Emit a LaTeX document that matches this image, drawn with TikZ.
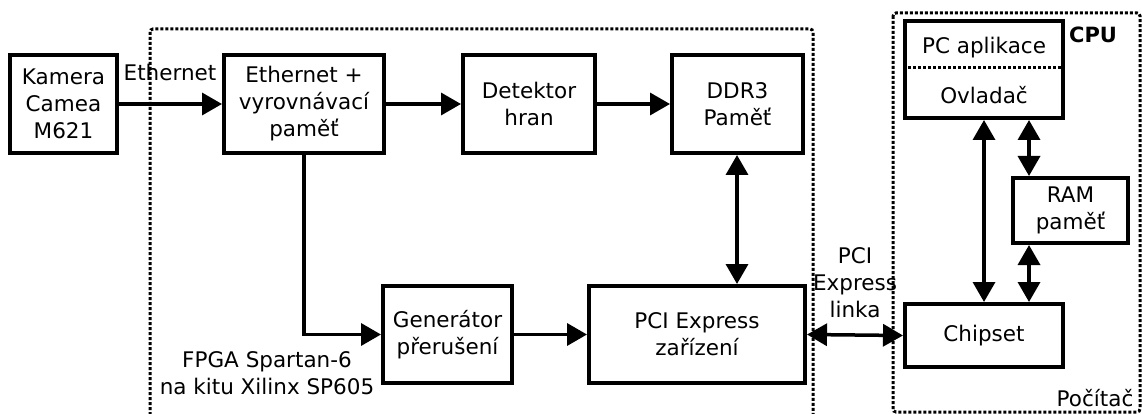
\documentclass[tikz,border=0pt]{standalone}
\usepackage{fontspec}
\setmainfont{DejaVu Sans}
\usetikzlibrary{arrows.meta,calc}
\begin{document}
\begin{tikzpicture}[x=1pt,y=-1pt,
  every node/.style={font=\fontsize{21.5}{27}\selectfont},
  blk/.style={draw,line width=4pt,rectangle,align=center,inner sep=0pt},
  conn/.style={line width=3.5pt,-{Triangle[length=20pt,width=22pt]}},
  biconn/.style={line width=3.5pt,{Triangle[length=20pt,width=22pt]}-{Triangle[length=20pt,width=22pt]}},
  dotbox/.style={line width=3pt,dash pattern=on 3pt off 2pt,rounded corners=3pt},
  lbl/.style={align=center,inner sep=0pt}]
\useasboundingbox (0,0) rectangle (1142,414);
% group borders
\draw[dotbox] (150,420) -- (150,29) -- (813,29) -- (813,420);
\draw[dotbox] (893,13) rectangle (1140,412);
% blocks
\node[blk,minimum width=107pt,minimum height=98pt] (kam) at (63.5,104) {Kamera\\Camea\\M621};
\node[blk,minimum width=160pt,minimum height=98pt] (eth) at (304,104) {Ethernet +\\vyrovnávací\\paměť};
\node[blk,minimum width=132pt,minimum height=98pt] (det) at (529,104) {Detektor\\hran};
\node[blk,minimum width=131pt,minimum height=98pt] (ddr) at (737.5,104) {DDR3\\Paměť};
\node[blk,minimum width=129pt,minimum height=97pt] (gen) at (447.5,334.5) {Generátor\\přerušení};
\node[blk,minimum width=216pt,minimum height=97pt] (pcie) at (697,334.5) {PCI Express\\zařízení};
\node[blk,minimum width=158pt,minimum height=97pt] (pcapp) at (984,69.5) {};
\node[blk,minimum width=115pt,minimum height=65pt] (ram) at (1070.5,210.5) {RAM\\paměť};
\node[blk,minimum width=158pt,minimum height=63pt] (chip) at (984,335.5) {Chipset};
\draw[line width=3pt,dash pattern=on 3pt off 2pt] (pcapp.west |- 0,68) -- (pcapp.east |- 0,68);
\node[lbl] (pcapptxt) at (984,48) {PC aplikace};
\node[lbl] (ovl) at (984,95) {Ovladač};
% labels
\node[lbl] (ethlbl) at (170,72) {Ethernet};
\node[lbl,font=\fontsize{21}{27}\selectfont\bfseries] (cpu) at (1093,35) {CPU};
\node[lbl] (fpga) at (267,373) {FPGA Spartan-6\\na kitu Xilinx SP605};
\node[lbl] (pc) at (1095,398) {Počítač};
\node[lbl] (link) at (855,283) {PCI\\Express\\linka};
% connectors
\coordinate (rx) at (1029,0);
\coordinate (ddrx) at (737,0);
\draw[conn] (kam.east) -- (eth.west);
\draw[conn] (eth.east) -- (det.west);
\draw[conn] (det.east) -- (ddr.west);
\draw[biconn] (ddr.south -| ddrx) -- (pcie.north -| ddrx);
\draw[conn] (eth.south) |- (gen.west);
\draw[conn] (gen.east) -- (pcie.west);
\draw[biconn] (pcie.east) -- (chip.west);
\draw[biconn] (pcapp.south) -- (chip.north);
\draw[biconn] (pcapp.south -| rx) -- (ram.north -| rx);
\draw[biconn] (ram.south -| rx) -- (chip.north -| rx);
\end{tikzpicture}
\end{document}
